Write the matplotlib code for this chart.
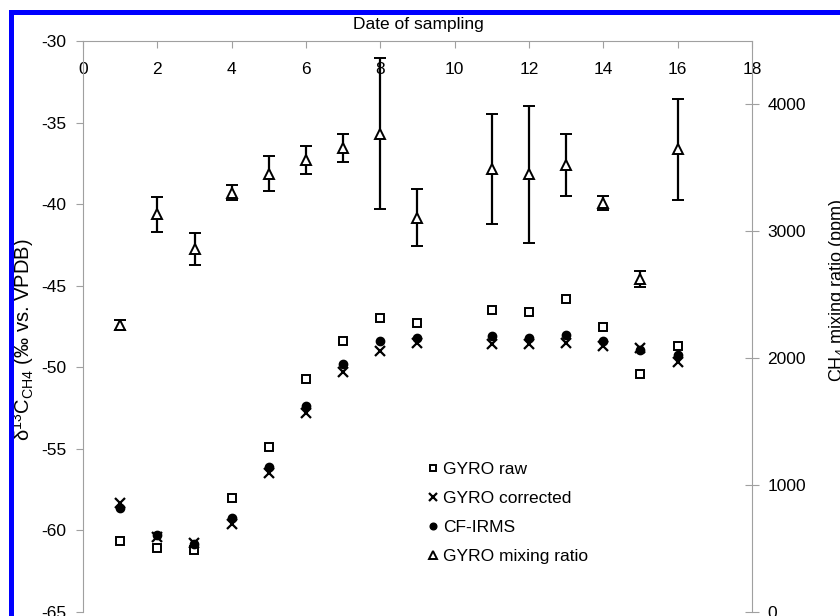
import matplotlib
matplotlib.use("Agg")
from matplotlib import pyplot as plt
from matplotlib.patches import Rectangle

plt.rcParams['font.family'] = ['Liberation Sans', 'DejaVu Sans']
plt.rcParams['mathtext.fontset'] = 'custom'
plt.rcParams['mathtext.rm'] = 'Liberation Sans'
plt.rcParams['mathtext.it'] = 'Liberation Sans:italic'
plt.rcParams['axes.unicode_minus'] = False

# sampling day
days = [1, 2, 3, 4, 5, 6, 7, 8, 9, 11, 12, 13, 14, 15, 16]
# d13C values (permil vs VPDB)
gyro_raw = [-60.65, -61.1, -61.2, -58.0, -54.9, -50.7, -48.4, -47.0, -47.3,
            -46.5, -46.6, -45.8, -47.5, -50.4, -48.7]
gyro_corr = [-58.3, -60.4, -60.75, -59.6, -56.5, -52.8, -50.3, -49.0, -48.5,
             -48.6, -48.6, -48.5, -48.7, -48.8, -49.65]
cf_irms = [-58.65, -60.3, -60.85, -59.25, -56.1, -52.4, -49.8, -48.4, -48.2,
           -48.1, -48.2, -48.0, -48.4, -48.95, -49.25]
# CH4 mixing ratio (ppm)
mixing = [2264, 3134, 2859, 3304, 3454, 3559, 3658, 3771, 3108, 3488, 3449,
          3522, 3226, 2623, 3645]
mixing_err = [40, 137, 127, 60, 138, 111, 113, 595, 223, 433, 541, 245, 56,
              65, 400]

grey = '#a0a0a0'

fig = plt.figure(figsize=(8.4, 6.16), dpi=100)
ax = fig.add_axes([83 / 840, 4 / 616, 669 / 840, 571 / 616])
ax2 = ax.twinx()

l1, = ax.plot(days, gyro_raw, ls='none', marker='s', ms=5.5, mfc='white',
              mec='black', mew=1.4, label='GYRO raw')
l2, = ax.plot(days, gyro_corr, ls='none', marker='x', ms=6.5, mec='black',
              mew=1.6, label='GYRO corrected')
l3, = ax.plot(days, cf_irms, ls='none', marker='o', ms=6, mfc='black',
              mec='black', label='CF-IRMS')
eb = ax2.errorbar(days, mixing, yerr=mixing_err, ls='none', marker='^', ms=6.5,
                  mfc='white', mec='black', mew=1.4, ecolor='black',
                  elinewidth=1.6, capsize=4.2, capthick=1.6,
                  label='GYRO mixing ratio')

ax.set_xlim(0, 18)
ax.set_xticks(range(0, 19, 2))
ax.set_ylim(-65, -30)
ax.set_yticks(range(-65, -29, 5))
ax2.set_ylim(0, 4500)
ax2.set_yticks(range(0, 4001, 1000))

for s in ['bottom', 'right']:
    ax.spines[s].set_visible(False)
for s in ['top', 'left']:
    ax.spines[s].set_color(grey)
for s in ['bottom', 'top', 'left']:
    ax2.spines[s].set_visible(False)
ax2.spines['right'].set_color(grey)

ax.tick_params(axis='x', top=True, bottom=False, labeltop=True,
               labelbottom=False, direction='in', length=5, color=grey,
               labelsize=12.5, pad=-26)
ax.tick_params(axis='y', direction='out', length=5, color=grey,
               labelsize=12.5, pad=7)
ax2.tick_params(axis='y', direction='inout', length=10, color=grey,
                labelsize=12.5, pad=6)

ax.set_ylabel('δ$^{13}$C$_{\\mathrm{CH4}}$ (‰ vs. VPDB)', fontsize=14.5)
ax.yaxis.set_label_coords(-0.071, 0.476)
ax2.set_ylabel('CH$_4$ mixing ratio (ppm)', fontsize=13, rotation=90)
ax2.yaxis.set_label_coords(1.112, 0.564)

fig.text(418 / 840, 1 - 29 / 616, 'Date of sampling', ha='center',
         va='baseline', fontsize=12.5)

ax.legend([l1, l2, l3, eb[0]],
          ['GYRO raw', 'GYRO corrected', 'CF-IRMS', 'GYRO mixing ratio'],
          loc='upper left', bbox_to_anchor=(429 / 840, 1 - 462 / 616),
          bbox_transform=fig.transFigure, frameon=False, borderpad=0,
          borderaxespad=0, handlelength=0.5, handletextpad=0.3,
          labelspacing=0.8, fontsize=12.5, markerscale=0.8)

fig.add_artist(Rectangle((10.5 / 840, -0.1), 1.2, 1.1 - 11.5 / 616,
                         transform=fig.transFigure, fill=False,
                         edgecolor='#0000ff', lw=3.6))

fig.savefig('out.png', dpi=100, facecolor='white')
